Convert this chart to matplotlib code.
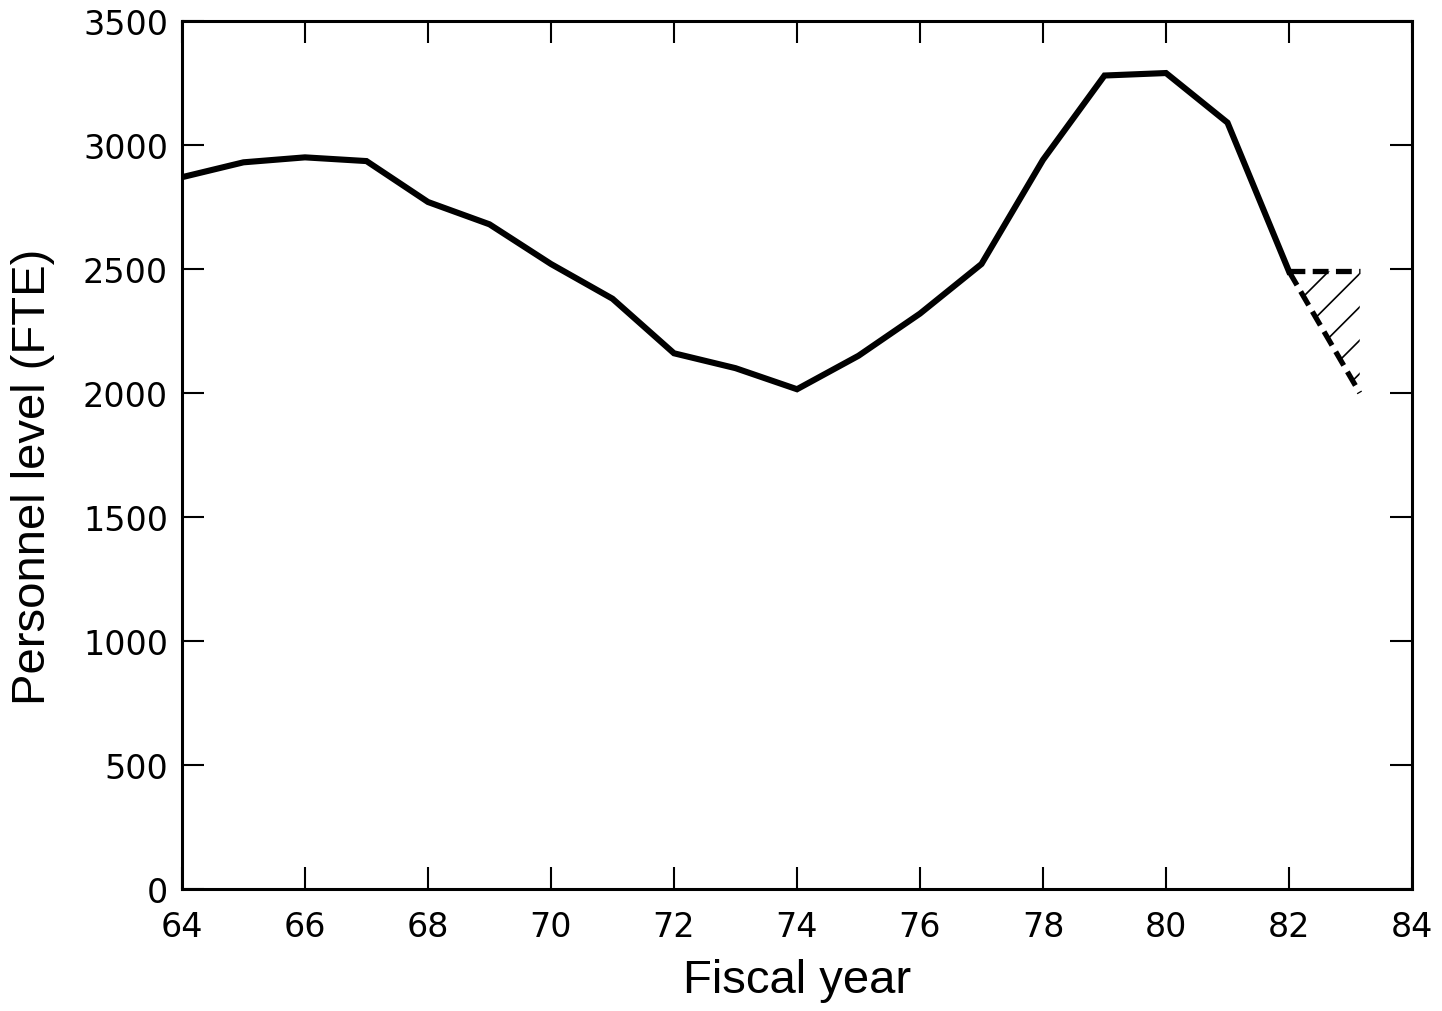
import matplotlib
matplotlib.use('Agg')
from matplotlib import pyplot as plt
import numpy as np

# Personnel level by fiscal year
years = [64, 65, 66, 67, 68, 69, 70, 71, 72, 73, 74, 75, 76, 77, 78, 79, 80, 81, 82]
fte = [2870, 2930, 2950, 2935, 2770, 2680, 2520, 2380, 2160, 2100, 2015,
       2150, 2320, 2520, 2940, 3280, 3290, 3090, 2490]

# projected range for FY83 (dashed, hatched)
proj_years = [82, 83.15]
proj_high = [2490, 2490]
proj_low = [2490, 2000]

xticks = list(range(64, 85, 2))
yticks = list(range(0, 3501, 500))

plt.rcParams['font.family'] = ['Liberation Sans', 'DejaVu Sans']
plt.rcParams['hatch.linewidth'] = 1.2

fig = plt.figure(figsize=(14.42, 10.12), dpi=100)
ax = fig.add_axes([0.1262, 0.1206, 0.853, 0.8577])

ax.plot(years, fte, color='black', lw=4.4, solid_joinstyle='miter')

ax.fill_between(proj_years, proj_low, proj_high, facecolor='none',
                edgecolor='black', hatch='/', linewidth=0)
ax.plot(proj_years, proj_high, color='black', lw=3.8,
        linestyle=(0, (3, 1.4)), dash_capstyle='butt')
ax.plot(proj_years, proj_low, color='black', lw=3.8,
        linestyle=(0, (3, 1.4)), dash_capstyle='butt')

ax.set_xlim(64, 84)
ax.set_ylim(0, 3500)
ax.set_xticks(xticks)
ax.set_yticks(yticks)
ax.tick_params(axis='both', direction='in', length=16, width=1.5,
               top=True, right=True, labelsize=24)
ax.tick_params(axis='x', pad=15)
ax.tick_params(axis='y', pad=10)
for lab in ax.get_xticklabels() + ax.get_yticklabels():
    lab.set_family('DejaVu Sans')
for sp in ax.spines.values():
    sp.set_linewidth(2.2)

ax.set_xlabel('Fiscal year', fontsize=34)
ax.xaxis.set_label_coords(0.5, -0.079)
ax.set_ylabel('Personnel level (FTE)', fontsize=34)
ax.yaxis.set_label_coords(-0.103, 0.476)

fig.savefig('out.png', dpi=100)
